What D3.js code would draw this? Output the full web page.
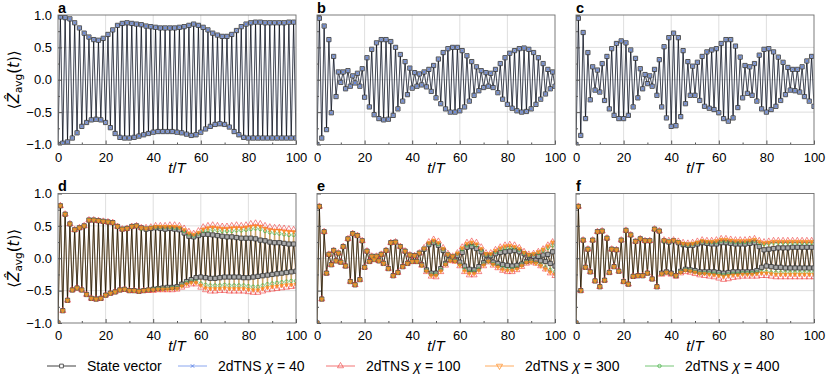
<!DOCTYPE html>
<html>
<head>
<meta charset="utf-8">
<script src="https://cdn.jsdelivr.net/npm/d3@7"></script>
<style>
  body { margin: 0; background: #fff; }
  svg { font-family: "Liberation Sans", Arial, sans-serif; }
</style>
</head>
<body>
<svg id="chart" width="830" height="384"></svg>
<script>
// time steps t/T = 0 .. 100
var steps = d3.range(0, 101);

// panel a-c : state vector (chi=40 TNS sits right on top of it)
var aSV = [-1.00,
  .97,-.98, .96,-.96, .94,-.90, .88,-.82, .80,-.72, .72,-.66, .66,-.62, .62,-.61, .61,-.62, .64,-.66,
  .70,-.74, .77,-.83, .84,-.89, .87,-.90, .88,-.90, .87,-.89, .86,-.87, .85,-.85, .83,-.83, .82,-.81,
  .81,-.80, .80,-.80, .80,-.80, .80,-.80, .80,-.81, .81,-.82, .82,-.84, .84,-.86, .86,-.85, .84,-.81,
  .81,-.76, .77,-.72, .72,-.69, .69,-.68, .67,-.69, .67,-.73, .70,-.80, .76,-.85, .82,-.89, .86,-.90,
  .88,-.90, .89,-.90, .89,-.90, .88,-.90, .88,-.90, .88,-.90, .88,-.90, .88,-.90, .89,-.90, .89,-.90];
var bSV = [-1.00,
  .95,-.90, .83,-.77, .62,-.51, .36,-.26, .12,-.04, .12,-.14, .14,-.10, .06,-.05, .10,-.10, .17,-.27,
  .34,-.42, .47,-.54, .57,-.60, .62,-.62, .62,-.61, .59,-.55, .50,-.45, .39,-.33, .28,-.23, .18,-.13,
  .11,-.10, .09,-.08, .12,-.11, .16,-.18, .22,-.28, .32,-.37, .42,-.45, .48,-.50, .50,-.50, .50,-.48,
  .45,-.42, .37,-.33, .28,-.24, .20,-.17, .14,-.12, .11,-.10, .10,-.12, .16,-.20, .25,-.30, .34,-.38,
  .41,-.44, .45,-.48, .48,-.50, .49,-.49, .47,-.45, .42,-.38, .34,-.30, .25,-.22, .16,-.14, .12,-.10];
var cSV = [-1.00,
  .95,-.86, .73,-.60, .42,-.31, .20,-.16, .15,-.19, .25,-.32, .36,-.45, .48,-.55, .56,-.60, .60,-.60,
  .57,-.55, .46,-.42, .33,-.28, .17,-.14, .08,-.06, .06,-.10, .16,-.24, .31,-.42, .51,-.59, .65,-.72,
  .72,-.71, .65,-.57, .45,-.37, .28,-.24, .21,-.24, .27,-.32, .36,-.41, .43,-.44, .46,-.46, .48,-.51,
  .56,-.60, .62,-.64, .62,-.59, .52,-.43, .35,-.28, .22,-.21, .20,-.24, .25,-.33, .38,-.45, .47,-.50,
  .48,-.46, .43,-.41, .35,-.32, .27,-.23, .19,-.16, .16,-.17, .16,-.19, .20,-.26, .29,-.33, .36,-.41];
// chi=40 is not distinguishable from the state vector in the picture
var aChi40 = aSV, bChi40 = bSV, cChi40 = cSV;

// panel d
var dSV = [-1.00,
  .81,-.81, .68,-.65, .53,-.49, .44,-.46, .47,-.49, .50,-.56, .59,-.62, .59,-.63, .58,-.62, .57,-.57,
  .56,-.54, .55,-.52, .49,-.49, .45,-.48, .46,-.50, .49,-.50, .50,-.51, .47,-.50, .45,-.49, .46,-.48,
  .47,-.47, .46,-.46, .45,-.45, .46,-.45, .45,-.44, .44,-.40, .39,-.36, .34,-.33, .33,-.30, .35,-.29,
  .37,-.30, .37,-.31, .36,-.31, .35,-.30, .34,-.29, .33,-.29, .33,-.29, .32,-.29, .31,-.30, .31,-.30,
  .31,-.29, .30,-.28, .28,-.27, .27,-.26, .25,-.25, .24,-.24, .24,-.23, .23,-.22, .22,-.21, .22,-.20];
var dChi100 = [-1.00,
  .81,-.81, .68,-.65, .53,-.49, .44,-.46, .47,-.49, .50,-.56, .59,-.62, .59,-.63, .58,-.62, .57,-.57,
  .56,-.54, .55,-.52, .49,-.49, .45,-.48, .46,-.50, .49,-.50, .50,-.51, .47,-.50, .47,-.50, .48,-.50,
  .50,-.49, .50,-.49, .50,-.49, .51,-.49, .51,-.48, .50,-.45, .46,-.42, .41,-.40, .38,-.40, .42,-.45,
  .48,-.49, .50,-.51, .51,-.51, .50,-.50, .49,-.50, .49,-.51, .50,-.51, .51,-.51, .50,-.51, .51,-.52,
  .53,-.53, .54,-.53, .53,-.51, .50,-.49, .48,-.48, .47,-.47, .47,-.46, .46,-.45, .45,-.44, .44,-.43];
var dChi300 = [-1.00,
  .81,-.81, .68,-.65, .53,-.49, .44,-.46, .47,-.49, .50,-.56, .59,-.62, .59,-.63, .58,-.62, .57,-.57,
  .56,-.54, .55,-.52, .49,-.49, .45,-.48, .46,-.50, .49,-.50, .50,-.51, .47,-.50, .46,-.49, .47,-.49,
  .49,-.48, .49,-.48, .49,-.48, .49,-.47, .49,-.47, .48,-.43, .44,-.40, .39,-.38, .37,-.38, .40,-.42,
  .45,-.46, .47,-.47, .48,-.47, .47,-.47, .46,-.46, .46,-.47, .47,-.47, .47,-.47, .47,-.47, .48,-.48,
  .49,-.49, .50,-.49, .49,-.47, .46,-.45, .44,-.44, .43,-.43, .43,-.42, .42,-.41, .41,-.41, .41,-.40];
var dChi400 = [-1.00,
  .81,-.81, .68,-.65, .53,-.49, .44,-.46, .47,-.49, .50,-.56, .59,-.62, .59,-.63, .58,-.62, .57,-.57,
  .56,-.54, .55,-.52, .49,-.49, .45,-.48, .46,-.50, .49,-.50, .50,-.51, .46,-.50, .46,-.49, .47,-.48,
  .48,-.47, .48,-.47, .48,-.47, .48,-.46, .47,-.46, .47,-.42, .42,-.38, .37,-.36, .35,-.36, .38,-.39,
  .42,-.41, .43,-.42, .44,-.42, .43,-.42, .42,-.41, .42,-.42, .42,-.42, .43,-.42, .43,-.42, .44,-.43,
  .45,-.44, .46,-.44, .45,-.42, .42,-.40, .40,-.39, .39,-.38, .38,-.37, .37,-.36, .36,-.35, .36,-.35];

// panel e
var eSV = [-1.00,
  .80,-.63, .41,-.23, .06,-.10, .12,-.04, .08,-.06, .18,-.12, .30,-.36, .38,-.41, .35,-.33, .27,-.14,
  .11,-.05, .03,-.02, .03,-.04, .06,-.08, .12,-.16, .24,-.27, .25,-.22, .18,-.13, .11,-.08, .05,-.05,
  .04,-.05, .08,-.10, .14,-.18, .21,-.23, .24,-.23, .20,-.16, .12,-.08, .05,-.02, .02,-.03, .04,-.06,
  .09,-.12, .17,-.17, .18,-.18, .15,-.13, .10,-.07, .05,-.03, .04,-.06, .07,-.08, .09,-.10, .10,-.11,
  .11,-.12, .12,-.11, .10,-.09, .07,-.05, .04,-.03, .03,-.03, .03,-.04, .05,-.05, .06,-.08, .10,-.12];
var eChi100 = [-1.00,
  .80,-.63, .41,-.23, .06,-.10, .12,-.04, .08,-.06, .18,-.12, .30,-.36, .38,-.41, .35,-.33, .27,-.14,
  .11,-.05, .03,-.02, .03,-.04, .06,-.08, .12,-.16, .24,-.27, .25,-.22, .18,-.13, .11,-.08, .05,-.05,
  .04,-.05, .08,-.11, .16,-.21, .25,-.28, .29,-.29, .26,-.21, .16,-.11, .07,-.04, .03,-.05, .08,-.12,
  .17,-.21, .24,-.26, .26,-.26, .24,-.21, .17,-.12, .08,-.06, .08,-.11, .13,-.15, .17,-.19, .20,-.21,
  .21,-.21, .20,-.18, .16,-.13, .10,-.08, .06,-.06, .07,-.08, .10,-.12, .14,-.17, .20,-.23, .25,-.27];
var eChi300 = [-1.00,
  .80,-.63, .41,-.23, .06,-.10, .12,-.04, .08,-.06, .18,-.12, .30,-.36, .38,-.41, .35,-.33, .27,-.14,
  .11,-.05, .03,-.02, .03,-.04, .06,-.08, .12,-.16, .24,-.27, .25,-.22, .18,-.13, .11,-.08, .05,-.05,
  .04,-.05, .08,-.11, .15,-.20, .24,-.27, .28,-.27, .24,-.20, .15,-.10, .06,-.04, .03,-.05, .08,-.11,
  .16,-.20, .23,-.24, .25,-.24, .22,-.19, .15,-.11, .07,-.05, .07,-.10, .12,-.14, .16,-.18, .19,-.19,
  .20,-.19, .18,-.17, .15,-.12, .09,-.07, .06,-.06, .07,-.08, .10,-.12, .14,-.17, .19,-.22, .25,-.25];
var eChi400 = [-1.00,
  .80,-.63, .41,-.23, .06,-.10, .12,-.04, .08,-.06, .18,-.12, .30,-.36, .38,-.41, .35,-.33, .27,-.14,
  .11,-.05, .03,-.02, .03,-.04, .06,-.08, .12,-.16, .24,-.27, .25,-.22, .18,-.13, .11,-.08, .05,-.05,
  .04,-.05, .08,-.11, .15,-.19, .23,-.25, .26,-.25, .22,-.18, .14,-.09, .06,-.03, .03,-.04, .07,-.10,
  .14,-.17, .20,-.21, .22,-.21, .20,-.17, .13,-.09, .06,-.05, .06,-.09, .10,-.12, .14,-.15, .16,-.17,
  .17,-.17, .16,-.15, .13,-.10, .08,-.06, .05,-.05, .06,-.07, .08,-.10, .12,-.14, .16,-.18, .20,-.21];

// panel f
var fSV = [-1.00,
  .80,-.50, .28,-.14, .14,-.21, .28,-.35, .41,-.44, .42,-.34, .31,-.22, .14,-.13, .13,-.20, .28,-.36,
  .43,-.40, .36,-.28, .26,-.27, .30,-.27, .27,-.23, .27,-.32, .45,-.44, .42,-.23, .27,-.21, .25,-.23,
  .27,-.27, .24,-.20, .21,-.17, .20,-.18, .20,-.19, .22,-.21, .24,-.21, .23,-.21, .22,-.21, .22,-.22,
  .24,-.23, .24,-.22, .23,-.21, .22,-.21, .22,-.21, .22,-.21, .23,-.21, .24,-.19, .18,-.14, .13,-.12,
  .14,-.13, .15,-.14, .16,-.14, .16,-.15, .16,-.15, .17,-.15, .17,-.15, .17,-.15, .17,-.15, .17,-.15];
var fChi100 = [-1.00,
  .80,-.50, .28,-.14, .14,-.21, .28,-.35, .41,-.44, .42,-.34, .31,-.22, .14,-.13, .13,-.20, .28,-.36,
  .43,-.40, .36,-.28, .26,-.27, .30,-.27, .27,-.23, .27,-.32, .45,-.44, .42,-.25, .28,-.23, .27,-.25,
  .28,-.28, .26,-.23, .24,-.21, .23,-.22, .24,-.24, .26,-.26, .28,-.27, .27,-.28, .27,-.29, .28,-.31,
  .30,-.33, .30,-.32, .29,-.30, .28,-.29, .28,-.28, .28,-.28, .29,-.28, .30,-.28, .27,-.27, .25,-.27,
  .26,-.28, .27,-.29, .27,-.29, .27,-.29, .27,-.29, .27,-.29, .27,-.29, .27,-.29, .27,-.29, .27,-.29];
var fChi300 = [-1.00,
  .80,-.50, .28,-.14, .14,-.21, .28,-.35, .41,-.44, .42,-.34, .31,-.22, .14,-.13, .13,-.20, .28,-.36,
  .43,-.40, .36,-.28, .26,-.27, .30,-.27, .27,-.23, .27,-.32, .45,-.44, .42,-.24, .28,-.22, .26,-.24,
  .28,-.27, .25,-.22, .23,-.19, .22,-.20, .23,-.22, .25,-.24, .27,-.24, .26,-.25, .26,-.26, .27,-.27,
  .29,-.28, .29,-.27, .28,-.26, .27,-.26, .27,-.25, .27,-.25, .28,-.25, .29,-.24, .26,-.23, .24,-.23,
  .25,-.24, .26,-.25, .26,-.25, .26,-.25, .26,-.25, .26,-.25, .26,-.25, .26,-.25, .26,-.25, .26,-.25];
var fChi400 = [-1.00,
  .80,-.50, .28,-.14, .14,-.21, .28,-.35, .41,-.44, .42,-.34, .31,-.22, .14,-.13, .13,-.20, .28,-.36,
  .43,-.40, .36,-.28, .26,-.27, .30,-.27, .27,-.23, .27,-.32, .45,-.44, .42,-.24, .27,-.22, .26,-.24,
  .27,-.27, .25,-.21, .22,-.18, .21,-.19, .22,-.21, .24,-.23, .26,-.23, .25,-.23, .25,-.24, .25,-.25,
  .27,-.26, .27,-.25, .26,-.24, .25,-.24, .25,-.23, .25,-.23, .26,-.23, .27,-.22, .24,-.21, .22,-.21,
  .23,-.22, .24,-.22, .24,-.22, .24,-.22, .24,-.22, .24,-.22, .24,-.22, .24,-.22, .24,-.22, .24,-.22];

var xTicks = [0, 20, 40, 60, 80, 100];
var yTicks = [-1, -0.5, 0, 0.5, 1];
var legendNames = ["State vector", "2dTNS \u03c7 = 40", "2dTNS \u03c7 = 100", "2dTNS \u03c7 = 300", "2dTNS \u03c7 = 400"];

// ---- layout / styles ----
var svg = d3.select("#chart");
var colLeft = [58, 317, 576], rowTop = [15, 193.5];
var pw = 238, ph = 129.5;

var styles = {
  sv:     { color: "#000",    marker: "square" },
  chi40:  { color: "#5a82e8", marker: "x" },
  chi100: { color: "#ee3b3b", marker: "triUp" },
  chi300: { color: "#ff8a1c", marker: "triDown" },
  chi400: { color: "#3cae3c", marker: "circle" }
};
var legendKeys = ["sv", "chi40", "chi100", "chi300", "chi400"];

// series listed in drawing order
var panels = [
  { label: "a", col: 0, row: 0, series: [["sv", aSV], ["chi40", aChi40]] },
  { label: "b", col: 1, row: 0, series: [["sv", bSV], ["chi40", bChi40]] },
  { label: "c", col: 2, row: 0, series: [["sv", cSV], ["chi40", cChi40]] },
  { label: "d", col: 0, row: 1, series: [["sv", dSV], ["chi100", dChi100], ["chi400", dChi400], ["chi300", dChi300]] },
  { label: "e", col: 1, row: 1, series: [["sv", eSV], ["chi100", eChi100], ["chi400", eChi400], ["chi300", eChi300]] },
  { label: "f", col: 2, row: 1, series: [["sv", fSV], ["chi100", fChi100], ["chi400", fChi400], ["chi300", fChi300]] }
];

// draws one marker of the given kind into selection (already translated)
function marker(sel, key, legend) {
  var st = styles[key];
  if (st.marker == "square") {
    sel.append("path").attr("d", d3.symbol(d3.symbolSquare, legend ? 14 : 18)())
      .attr("fill", legend ? "#fff" : "#aaa").attr("stroke", "#333").attr("stroke-width", 0.8);
  } else if (st.marker == "x") {
    var a = 1.7;
    sel.append("path").attr("d", "M" + (-a) + "," + (-a) + "L" + a + "," + a + "M" + (-a) + "," + a + "L" + a + "," + (-a))
      .attr("fill", "none").attr("stroke", st.color).attr("stroke-width", 0.9);
  } else if (st.marker == "triUp") {
    sel.append("path").attr("d", d3.symbol(d3.symbolTriangle, 16)())
      .attr("fill", "none").attr("stroke", st.color).attr("stroke-opacity", 0.75).attr("stroke-width", 0.8);
  } else if (st.marker == "triDown") {
    sel.append("path").attr("d", d3.symbol(d3.symbolTriangle, legend ? 16 : 7)()).attr("transform", "rotate(180)")
      .attr("fill", legend ? "none" : st.color).attr("fill-opacity", 0.8).attr("stroke", st.color)
      .attr("stroke-width", legend ? 0.7 : 0.5);
  } else {
    sel.append("circle").attr("r", 1.7)
      .attr("fill", "none").attr("stroke", st.color).attr("stroke-opacity", 0.85).attr("stroke-width", 0.8);
  }
}

panels.forEach(function (p, pi) {
  var left = colLeft[p.col], top = rowTop[p.row];
  var x = d3.scaleLinear().domain([0, 100]).range([left, left + pw]);
  var y = d3.scaleLinear().domain([-1, 1]).range([top + ph, top]);

  var g = svg.append("g");

  // grid
  g.selectAll(".gx").data([20, 40, 60, 80]).enter().append("line")
    .attr("x1", function (d) { return x(d); }).attr("x2", function (d) { return x(d); })
    .attr("y1", top).attr("y2", top + ph)
    .attr("stroke", "#d6d6d6").attr("stroke-width", 0.8);
  g.selectAll(".gy").data([-0.5, 0, 0.5]).enter().append("line")
    .attr("x1", left).attr("x2", left + pw)
    .attr("y1", function (d) { return y(d); }).attr("y2", function (d) { return y(d); })
    .attr("stroke", "#d6d6d6").attr("stroke-width", 0.8);

  // clip
  svg.append("clipPath").attr("id", "clip" + pi)
    .append("rect").attr("x", left).attr("y", top).attr("width", pw).attr("height", ph);
  var plot = g.append("g").attr("clip-path", "url(#clip" + pi + ")");

  var line = d3.line().x(function (d, i) { return x(steps[i]); }).y(function (d) { return y(d); });

  // TNS lines underneath, then state vector line, then markers
  p.series.slice(1).forEach(function (s) {
    plot.append("path").datum(s[1]).attr("d", line)
      .attr("fill", "none").attr("stroke", styles[s[0]].color)
      .attr("stroke-width", 0.8).attr("stroke-opacity", 0.35);
  });
  plot.append("path").datum(p.series[0][1]).attr("d", line)
    .attr("fill", "none").attr("stroke", "#000")
    .attr("stroke-width", 0.8).attr("stroke-opacity", 0.85);

  p.series.forEach(function (s) {
    var key = s[0];
    plot.selectAll(".m-" + key).data(s[1]).enter().append("g")
      .attr("transform", function (d, i) { return "translate(" + x(steps[i]) + "," + y(d) + ")"; })
      .each(function () { marker(d3.select(this), key); });
  });

  // axes (ticks inward)
  var ax = g.append("g").attr("transform", "translate(0," + (top + ph) + ")")
    .call(d3.axisBottom(x).tickValues(xTicks).tickSize(-4).tickPadding(8).tickFormat(d3.format("d")));
  var axm = g.append("g").attr("transform", "translate(0," + (top + ph) + ")")
    .call(d3.axisBottom(x).tickValues([10, 30, 50, 70, 90]).tickSize(-2).tickFormat(""));
  var ay = g.append("g").attr("transform", "translate(" + left + ",0)")
    .call(d3.axisLeft(y).tickValues(yTicks).tickSize(-4).tickPadding(6)
      .tickFormat(p.col == 0 ? d3.format(".1f") : ""));
  var aym = g.append("g").attr("transform", "translate(" + left + ",0)")
    .call(d3.axisLeft(y).tickValues([-0.75, -0.25, 0.25, 0.75]).tickSize(-2).tickFormat(""));
  [ax, axm, ay, aym].forEach(function (a) {
    a.select(".domain").remove();
    a.selectAll("line").attr("stroke", "#555");
    a.selectAll("text").attr("font-size", 13).attr("fill", "#000")
      .attr("font-family", "Liberation Sans, Arial, sans-serif");
  });

  // frame
  g.append("rect").attr("x", left).attr("y", top).attr("width", pw).attr("height", ph)
    .attr("fill", "none").attr("stroke", "#6e6e6e").attr("stroke-width", 0.9);

  // panel letter
  g.append("text").attr("x", left).attr("y", top - 2.5).text(p.label)
    .attr("font-size", 14.5).attr("font-weight", "bold");

  // x label t/T
  var xl = g.append("text").attr("x", left + pw / 2).attr("y", top + ph + 28)
    .attr("text-anchor", "middle").attr("font-size", 15);
  xl.append("tspan").attr("font-style", "italic").text("t");
  xl.append("tspan").text("/");
  xl.append("tspan").attr("font-style", "italic").text("T");

  // y label
  if (p.col == 0) {
    var yl = g.append("text")
      .attr("transform", "translate(19," + (top + ph / 2) + ") rotate(-90)")
      .attr("text-anchor", "middle").attr("font-size", 15)
      .attr("font-family", "DejaVu Sans, sans-serif");
    yl.append("tspan").text("\u27e8");
    yl.append("tspan").attr("font-style", "italic").text("Z\u0302");
    yl.append("tspan").attr("font-size", 10.5).attr("dy", 3).text("avg");
    yl.append("tspan").attr("dy", -3).text("(");
    yl.append("tspan").attr("font-style", "italic").text("t");
    yl.append("tspan").text(")\u27e9");
  }
});

// legend
var legX = [47, 178, 326, 485, 645], legY = 366;
var lg = svg.append("g");
legendKeys.forEach(function (k, i) {
  var st = styles[k];
  var item = lg.append("g").attr("transform", "translate(" + legX[i] + "," + legY + ")");
  item.append("line").attr("x1", 0).attr("x2", 29).attr("y1", 0).attr("y2", 0)
    .attr("stroke", st.color).attr("stroke-width", 1).attr("stroke-opacity", k == "sv" ? 0.75 : 0.7);
  marker(item.append("g").attr("transform", "translate(14.5,0)"), k, true);
  var t = item.append("text").attr("x", 40).attr("y", 5).attr("font-size", 14);
  var name = legendNames[i];
  if (name.indexOf("\u03c7") >= 0) {
    var parts = name.split("\u03c7");
    t.append("tspan").text(parts[0]);
    t.append("tspan").attr("font-style", "italic").text("\u03c7");
    t.append("tspan").text(parts[1]);
  } else {
    t.text(name);
  }
});
</script>
</body>
</html>
